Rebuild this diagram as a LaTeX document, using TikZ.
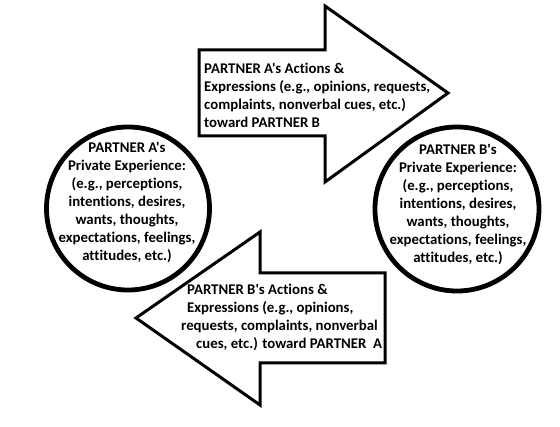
\documentclass[tikz,border=0pt]{standalone}
\usepackage{fontspec}
\setmainfont{Carlito}[Ligatures={TeXOff,NoCommon}]
\begin{document}
\begin{tikzpicture}[x=1pt,y=-1pt,
  arrowshape/.style={draw=black,line width=3pt,fill=white,line join=miter},
  bubble/.style={draw=black,line width=4.8pt,fill=white},
  lbl/.style={font=\bfseries\fontsize{14.8}{18}\selectfont,inner sep=0pt,text=black}]
\useasboundingbox (0,0) rectangle (560,427);
\fill[white] (0,0) rectangle (560,427);
% top arrow (A -> B)
\draw[arrowshape] (199,50) -- (325,50) -- (325,6) -- (448,93) -- (325,182) -- (325,136) -- (199,136) -- cycle;
\node[lbl,align=left,anchor=west] (atext) at (204,95.5) {PARTNER A's Actions \&\\Expressions (e.g., opinions, requests,\\complaints, nonverbal cues, etc.)\\toward PARTNER B};
% bottom arrow (B -> A)
\draw[arrowshape] (385,273) -- (260,273) -- (260,232) -- (136,318) -- (260,405) -- (260,363) -- (385,363) -- cycle;
\node[lbl,align=left,anchor=west] (btext) at (181,317.5) {\hspace{6pt}PARTNER B's Actions \&\\\hspace{6pt}Expressions (e.g., opinions,\\requests, complaints, nonverbal\\\hspace{15pt}cues, etc.) toward PARTNER\ \ A};
% circles
\draw[bubble] (128,208.5) circle [radius=81.5];
\node[lbl,align=center] (aexp) at (127,202.5) {PARTNER A's\\Private Experience:\\(e.g., perceptions,\\intentions, desires,\\wants, thoughts,\\expectations, feelings,\\attitudes, etc.)};
\draw[bubble] (457,209) circle [radius=82];
\node[lbl,align=center] (bexp) at (458,204.5) {PARTNER B's\\Private Experience:\\(e.g., perceptions,\\intentions, desires,\\wants, thoughts,\\expectations, feelings,\\attitudes, etc.)};
\end{tikzpicture}
\end{document}
